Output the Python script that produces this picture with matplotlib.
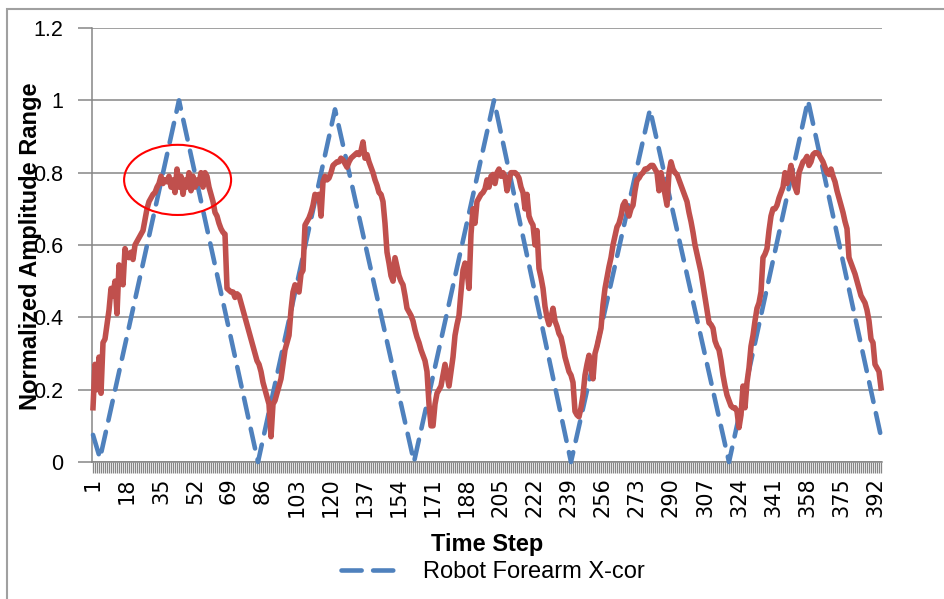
import numpy as np
import matplotlib
matplotlib.use("Agg")
import matplotlib.pyplot as plt
from matplotlib.patches import Ellipse, Rectangle
from matplotlib import font_manager as fm

# ---------------- data ----------------
# Observed (noisy) signal, one value per time step
red_values = [
    0.15, 0.27, 0.20, 0.29, 0.19, 0.33, 0.34, 0.38, 0.42, 0.48,
    0.46, 0.50, 0.41, 0.545, 0.52, 0.49, 0.59, 0.57, 0.565, 0.58,
    0.56, 0.60, 0.61, 0.62, 0.63, 0.64, 0.67, 0.70, 0.72, 0.73,
    0.74, 0.745, 0.76, 0.77, 0.79, 0.77, 0.78, 0.775, 0.79, 0.76,
    0.78, 0.745, 0.81, 0.76, 0.79, 0.74, 0.78, 0.76, 0.80, 0.75,
    0.79, 0.76, 0.78, 0.77, 0.80, 0.76, 0.80, 0.79, 0.76, 0.74,
    0.72, 0.69, 0.68, 0.66, 0.645, 0.635, 0.63, 0.48, 0.475, 0.47,
    0.47, 0.455, 0.465, 0.46, 0.44, 0.42, 0.40, 0.38, 0.36, 0.34,
    0.32, 0.30, 0.28, 0.27, 0.25, 0.22, 0.20, 0.18, 0.16, 0.07,
    0.16, 0.17, 0.19, 0.21, 0.23, 0.27, 0.31, 0.33, 0.35, 0.42,
    0.47, 0.49, 0.48, 0.47, 0.52, 0.53, 0.655, 0.665, 0.675, 0.69,
    0.71, 0.74, 0.73, 0.74, 0.68, 0.775, 0.79, 0.78, 0.785, 0.80,
    0.82, 0.825, 0.83, 0.83, 0.84, 0.835, 0.825, 0.815, 0.83, 0.84,
    0.845, 0.85, 0.855, 0.85, 0.86, 0.885, 0.84, 0.85, 0.83, 0.815,
    0.80, 0.78, 0.765, 0.745, 0.74, 0.72, 0.66, 0.58, 0.55, 0.515,
    0.50, 0.565, 0.54, 0.515, 0.50, 0.49, 0.46, 0.425, 0.415, 0.405,
    0.39, 0.365, 0.345, 0.33, 0.31, 0.295, 0.28, 0.25, 0.16, 0.10,
    0.10, 0.16, 0.19, 0.20, 0.21, 0.24, 0.27, 0.24, 0.21, 0.25,
    0.29, 0.35, 0.38, 0.405, 0.47, 0.53, 0.55, 0.53, 0.48, 0.63,
    0.70, 0.66, 0.72, 0.73, 0.74, 0.745, 0.755, 0.78, 0.76, 0.79,
    0.795, 0.77, 0.80, 0.81, 0.79, 0.80, 0.79, 0.75, 0.78, 0.80,
    0.80, 0.80, 0.795, 0.785, 0.76, 0.745, 0.70, 0.74, 0.68, 0.665,
    0.655, 0.60, 0.64, 0.535, 0.51, 0.48, 0.43, 0.40, 0.38, 0.40,
    0.425, 0.39, 0.375, 0.355, 0.345, 0.32, 0.29, 0.27, 0.25, 0.24,
    0.22, 0.14, 0.13, 0.125, 0.15, 0.185, 0.24, 0.27, 0.295, 0.26,
    0.23, 0.30, 0.32, 0.345, 0.37, 0.435, 0.48, 0.51, 0.54, 0.565,
    0.60, 0.625, 0.65, 0.66, 0.68, 0.71, 0.72, 0.70, 0.68, 0.70,
    0.71, 0.75, 0.78, 0.785, 0.795, 0.80, 0.81, 0.81, 0.815, 0.82,
    0.82, 0.81, 0.80, 0.75, 0.80, 0.77, 0.74, 0.71, 0.80, 0.83,
    0.81, 0.80, 0.795, 0.78, 0.765, 0.75, 0.735, 0.72, 0.69, 0.665,
    0.635, 0.60, 0.575, 0.55, 0.525, 0.49, 0.455, 0.42, 0.385, 0.38,
    0.37, 0.335, 0.32, 0.31, 0.28, 0.24, 0.21, 0.185, 0.17, 0.155,
    0.15, 0.15, 0.14, 0.095, 0.13, 0.21, 0.15, 0.22, 0.26, 0.32,
    0.35, 0.39, 0.425, 0.44, 0.47, 0.565, 0.575, 0.59, 0.64, 0.68,
    0.70, 0.70, 0.71, 0.73, 0.745, 0.76, 0.80, 0.77, 0.79, 0.82,
    0.785, 0.76, 0.745, 0.80, 0.815, 0.83, 0.835, 0.845, 0.82, 0.83,
    0.85, 0.855, 0.855, 0.85, 0.84, 0.83, 0.815, 0.80, 0.795, 0.81,
    0.79, 0.775, 0.75, 0.73, 0.71, 0.69, 0.665, 0.645, 0.565, 0.55,
    0.535, 0.52, 0.50, 0.48, 0.46, 0.45, 0.44, 0.42, 0.39, 0.34,
    0.33, 0.27, 0.26, 0.25, 0.205,
]
time_steps = list(range(1, len(red_values) + 1))

# Robot forearm X-coordinate: turning points of the triangular trajectory
blue_steps = [1, 4.5, 44, 83.5, 122, 161.5, 201.5, 240, 279.5, 319, 358.5, 395]
blue_values = [0.075, 0.01, 1.0, 0.0, 0.975, 0.0, 1.0, 0.0, 0.975, 0.0, 1.0, 0.07]

x_tick_labels = [str(v) for v in range(1, 400, 17)]
y_ticks = [0, 0.2, 0.4, 0.6, 0.8, 1.0, 1.2]
y_tick_labels = ["0", "0.2", "0.4", "0.6", "0.8", "1", "1.2"]

series_name = "Robot Forearm X-cor"
x_title = "Time Step"
y_title = "Normalized Amplitude Range"

# ---------------- style ----------------
names = {f.name for f in fm.fontManager.ttflist}
SANS = "Liberation Sans" if "Liberation Sans" in names else "DejaVu Sans"
plt.rcParams["font.family"] = [SANS, "DejaVu Sans"]

BLUE = "#4F81BD"
RED = "#C0504D"
GRID = "#868686"

W, H = 944, 599
fig = plt.figure(figsize=(W / 100, H / 100), dpi=100)

# outer chart border (cropped on right / bottom)
fig.patches.append(Rectangle((7 / W, -0.05), 1.2, 1 - 9 / H + 0.05,
                             transform=fig.transFigure, fill=False,
                             edgecolor="#A0A0A0", linewidth=1.5))

L, R, T, B = 92, 882, 28, 462
ax = fig.add_axes([L / W, 1 - B / H, (R - L) / W, (B - T) / H])

n = len(time_steps)
ax.set_xlim(0.5, n + 0.5)
ax.set_ylim(0, 1.2)

ax.set_yticks(y_ticks)
ax.set_yticklabels(y_tick_labels)
ax.grid(axis="y", color=GRID, linewidth=1.1)
ax.set_axisbelow(True)

label_pos = [int(s) for s in x_tick_labels]
ax.set_xticks(label_pos)
ax.set_xticklabels(x_tick_labels, rotation=90, fontsize=15,
                   family=["DejaVu Sans"], va="top", ha="center")
ax.set_xticks(time_steps, minor=True)

ax.tick_params(axis="y", length=10, width=1.1, color=GRID, labelsize=15.5,
               pad=11, direction="out")
ax.tick_params(axis="x", which="both", length=8, width=0.9, color=GRID,
               pad=3, direction="out")

for s in ["top", "right"]:
    ax.spines[s].set_visible(False)
for s in ["left", "bottom"]:
    ax.spines[s].set_color(GRID)
    ax.spines[s].set_linewidth(1.1)

# series
blue_line, = ax.plot(blue_steps, blue_values, color=BLUE, linewidth=3.3,
                     dashes=(4.4, 2.5), dash_capstyle="round",
                     solid_capstyle="round", zorder=3, label=series_name,
                     clip_on=False)
ax.plot(time_steps, red_values, color=RED, linewidth=4.0,
        solid_joinstyle="round", zorder=4, clip_on=False)

# red highlight ellipse
ax.add_patch(Ellipse((43.3, 0.78), 53.5, 0.194, fill=False,
                     edgecolor="#FF0000", linewidth=1.5, zorder=5))

# titles
fig.text(487 / W, 1 - 545 / H, x_title, ha="center", va="center",
         fontsize=17, fontweight="bold")
fig.text(31 / W, 1 - 246 / H, y_title, ha="center", va="center",
         rotation=90, fontsize=17, fontweight="bold")

fig.legend(handles=[blue_line], loc="center",
           bbox_to_anchor=(493 / W, 1 - 572 / H), frameon=False,
           fontsize=17, handlelength=2.5, handletextpad=1.0)

fig.savefig("out.png", dpi=100)
